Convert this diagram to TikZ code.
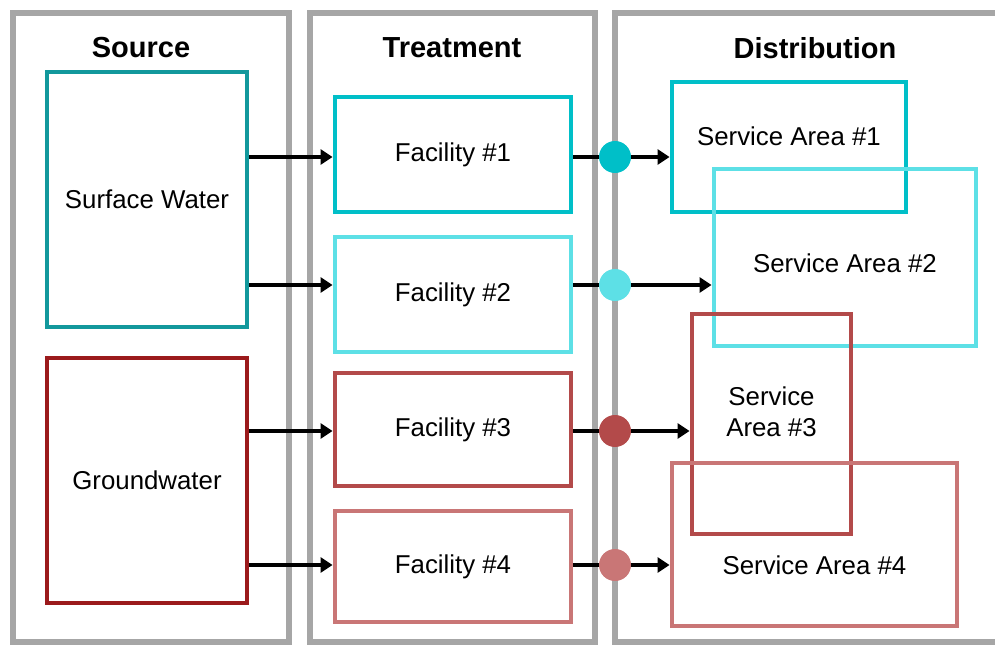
\documentclass[tikz,border=0pt]{standalone}
\usepackage{fontspec}
\setmainfont{Liberation Sans}
\usetikzlibrary{arrows.meta}
\definecolor{panelgray}{HTML}{A6A6A6}
\definecolor{surfteal}{HTML}{12989C}
\definecolor{groundred}{HTML}{9B1A1C}
\definecolor{facone}{HTML}{00BFC8}
\definecolor{factwo}{HTML}{5DE0E6}
\definecolor{facthree}{HTML}{B34A4A}
\definecolor{facfour}{HTML}{C97676}
\tikzset{
  panel/.style={draw=panelgray,line width=3.4pt},
  heading/.style={font=\bfseries\fontsize{16.5}{20}\selectfont},
  boxtext/.style={align=center,font=\fontsize{14.7}{17.6}\selectfont},
  box/.style={draw=#1,line width=2.8pt,inner sep=0pt,boxtext},
  boxsize/.style 2 args={minimum width=#1*0.2mm,minimum height=#2*0.2mm},
  hub/.style={circle,fill=#1,minimum size=6.4mm,inner sep=0pt},
  pipe/.style={line width=1.8pt},
  flow/.style={pipe,-{Triangle[length=6.8pt,width=8.5pt]}},
}

\begin{document}
\begin{tikzpicture}[x=0.02cm,y=-0.02cm]
\clip (0,0) rectangle (995,646);

% panels
\draw[panel] (13,13) rectangle (289,642);
\draw[panel] (310,13) rectangle (595,642);
\draw[panel] (615,13) rectangle (1010,642);
\node[heading] (hsrc) at (141,48) {Source};
\node[heading] (htreat) at (452,48) {Treatment};
\node[heading] (hdist) at (815,48) {Distribution};

% sources
\node[box=surfteal,boxsize={200}{255}] (sw) at (147,199.5) {Surface Water};
\node[box=groundred,boxsize={200}{245}] (gw) at (147,480.5) {Groundwater};

% facilities
\node[box=facone,boxsize={236}{115}] (f1) at (453,154.5) {Facility \#1};
\node[box=factwo,boxsize={236}{115}] (f2) at (453,294.5) {Facility \#2};
\node[box=facthree,boxsize={236}{113}] (f3) at (453,429.5) {Facility \#3};
\node[box=facfour,boxsize={236}{111}] (f4) at (453,566.5) {Facility \#4};

% service areas, names set off centre
\node[box=facone,boxsize={234}{130},label={[boxtext,yshift=2.2mm]center:Service Area \#1}] (sa1) at (789,147) {};
\node[box=factwo,boxsize={262}{177},label={[boxtext,yshift=-1.1mm]center:Service Area \#2}] (sa2) at (845,257.5) {};
\node[box=facthree,boxsize={159}{220},label={[boxtext,yshift=2.4mm]center:Service\\Area \#3}] (sa3) at (771.5,424) {};
\node[box=facfour,boxsize={285}{163},label={[boxtext,yshift=-4.1mm]center:Service Area \#4}] (sa4) at (814.5,544.5) {};

% hubs on the distribution line
\coordinate (c1) at (615,157);
\coordinate (c2) at (615,285);
\coordinate (c3) at (615,431);
\coordinate (c4) at (615,565);

\draw[flow] (sw.east |- c1) -- (f1.west |- c1);
\draw[flow] (sw.east |- c2) -- (f2.west |- c2);
\draw[flow] (gw.east |- c3) -- (f3.west |- c3);
\draw[flow] (gw.east |- c4) -- (f4.west |- c4);

\draw[pipe] (f1.east |- c1) -- (c1);
\draw[pipe] (f2.east |- c2) -- (c2);
\draw[pipe] (f3.east |- c3) -- (c3);
\draw[pipe] (f4.east |- c4) -- (c4);

\node[hub=facone] (d1) at (c1) {};
\node[hub=factwo] (d2) at (c2) {};
\node[hub=facthree] (d3) at (c3) {};
\node[hub=facfour] (d4) at (c4) {};

\draw[flow] (d1) -- (sa1.west |- d1);
\draw[flow] (d2) -- (sa2.west |- d2);
\draw[flow] (d3) -- (sa3.west |- d3);
\draw[flow] (d4) -- (sa4.west |- d4);

\end{tikzpicture}
\end{document}
